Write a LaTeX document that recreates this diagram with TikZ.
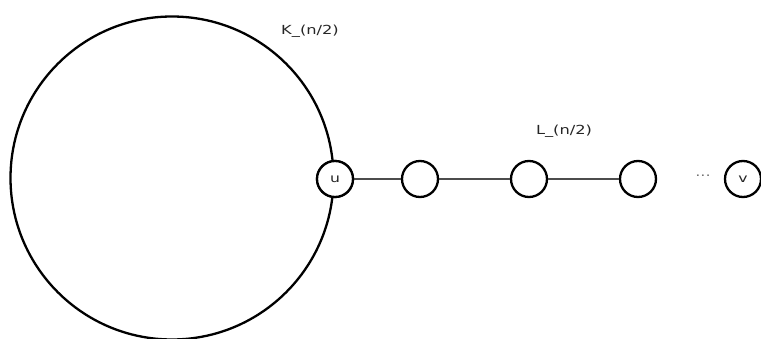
\documentclass[tikz,border=0pt]{standalone}
\usepackage{fontspec}
\setmainfont{DejaVu Sans}
\newfontfamily\lblfont[FakeStretch=1.3]{DejaVu Sans}
\begin{document}
\begin{tikzpicture}[x=1pt,y=-1pt,
  vert/.style={circle,draw=black,line width=2.3pt,minimum size=36pt,inner sep=0pt,fill=white,font=\lblfont\fontsize{12}{13}\selectfont,text=black!85},
  edge/.style={draw=black!70,line width=2.6pt},
  lbl/.style={font=\lblfont\fontsize{12.5}{14}\selectfont,text=black!85}]
\useasboundingbox (0,0) rectangle (761,339);
\node[circle,draw=black,line width=2.3pt,minimum size=323pt,inner sep=0pt] (K) at (172,178) {};
\node[lbl] (kl) at (310,31) {K\_(n/2)};
\node[vert] (u) at (335,179) {u};
\node[vert] (a) at (420,179) {};
\node[vert] (b) at (529,179) {};
\node[vert] (c) at (638,179) {};
\node[lbl,text=black!55] (dots) at (703,176) {...};
\node[vert] (v) at (743,179) {v};
\node[lbl] (ll) at (564,131) {L\_(n/2)};
\draw[edge] (u) -- (a);
\draw[edge] (a) -- (b);
\draw[edge] (b) -- (c);
\node[vert] at (u) {u};
\end{tikzpicture}
\end{document}
